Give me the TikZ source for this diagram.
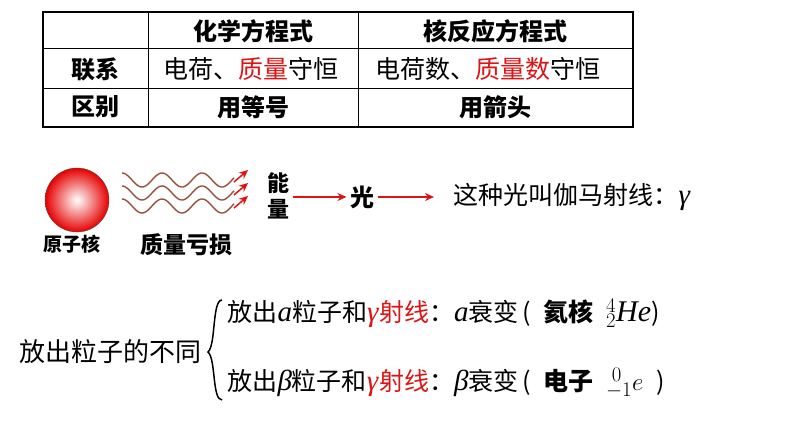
\documentclass[tikz,border=0pt]{standalone}
\usepackage{fontspec}
\setmainfont{Liberation Serif}
\newfontfamily\cjk{Noto Sans CJK SC}
\newfontfamily\gk{Liberation Serif}
\usetikzlibrary{arrows.meta}
\definecolor{myred}{RGB}{220,20,20}
\definecolor{wave}{RGB}{150,80,60}
\newcommand{\gs}[1]{{\fontsize{29}{30}\selectfont\textit{\gk #1}}}
\begin{document}
\begin{tikzpicture}[x=1pt,y=-1pt,
  t/.style={font=\cjk\fontsize{25}{28}\selectfont},
  tb/.style={font=\cjk\bfseries\fontsize{24}{27}\selectfont},
  rarrow/.style={draw=myred,line width=1.5pt,-{Stealth[length=9pt,width=8pt]}}]
\useasboundingbox (0,0) rectangle (794,447);
% table
\draw[line width=1.2pt] (43,12) rectangle (633,127);
\draw[line width=1pt] (43,48)--(633,48) (43,88)--(633,88) (148,12)--(148,127) (358,12)--(358,127);
\node[tb] (h1) at (253,31) {化学方程式};
\node[tb] (h2) at (495,31) {核反应方程式};
\node[tb] (r1) at (95,69) {联系};
\node[t] (c1) at (251,69) {电荷、\textcolor{myred}{质量}守恒};
\node[t] (c2) at (488,69) {电荷数、\textcolor{myred}{质量数}守恒};
\node[tb] (r2) at (95,107) {区别};
\node[tb] (d1) at (253,107) {用等号};
\node[tb] (d2) at (495,107) {用箭头};
% nucleus
\shade[inner color=white, outer color=red!90!black, draw=black!70] (77,200) circle (32);
\node[tb,font=\cjk\bfseries\fontsize{19}{22}\selectfont] (n) at (72,244) {原子核};
\node[tb,font=\cjk\bfseries\fontsize{23}{24}\selectfont] (m) at (186,245) {质量亏损};
\foreach \dy in {0,13,26}{
  \draw[wave,line width=1.4pt,domain=0:112,samples=90]
    plot ({122+\x},{180+\dy-7*cos(\x/40*360)});
  \draw[myred,line width=1.5pt,-{Stealth[length=9pt,width=8pt]}] (234,{180+\dy+2}) -- (248,{180+\dy-10});
}
\node[tb,align=center,font=\cjk\bfseries\fontsize{22}{26}\selectfont] (e) at (278,196) {能\\量};
\node[tb] (g) at (362,197) {光};
\draw[rarrow] (e.east) ++(0,1) coordinate (e1) -- (g.west|-e1);
\coordinate (q) at (434,197);
\draw[rarrow] (g.east) -- (q);
\node[t,anchor=west] (s) at (450,197) {这种光叫伽马射线：\gs{γ}};
% decays
\node[t,font=\cjk\fontsize{26}{28}\selectfont] (f) at (110,352) {放出粒子的不同};
\draw[line width=1.5pt] (222,300) .. controls (212,300) and (216,345) .. (208,352)
  .. controls (216,359) and (212,400) .. (222,400);
\node[t,anchor=west] (a) at (224,313) {放出\gs{a}粒子和\textcolor{myred}{\gs{γ}射线}：\gs{a}衰变\,(\enspace\textbf{氦核}\enspace{\fontsize{30}{30}\selectfont$^{4}_{2}\mathit{He}$})};
\node[t,anchor=west] (b) at (224,383) {放出\gs{β}粒子和\textcolor{myred}{\gs{γ}射线}：\gs{β}衰变\,(\enspace\textbf{电子}\enspace{\fontsize{30}{30}\selectfont$^{\;0}_{-1}e$}\enspace)};
\end{tikzpicture}
\end{document}
